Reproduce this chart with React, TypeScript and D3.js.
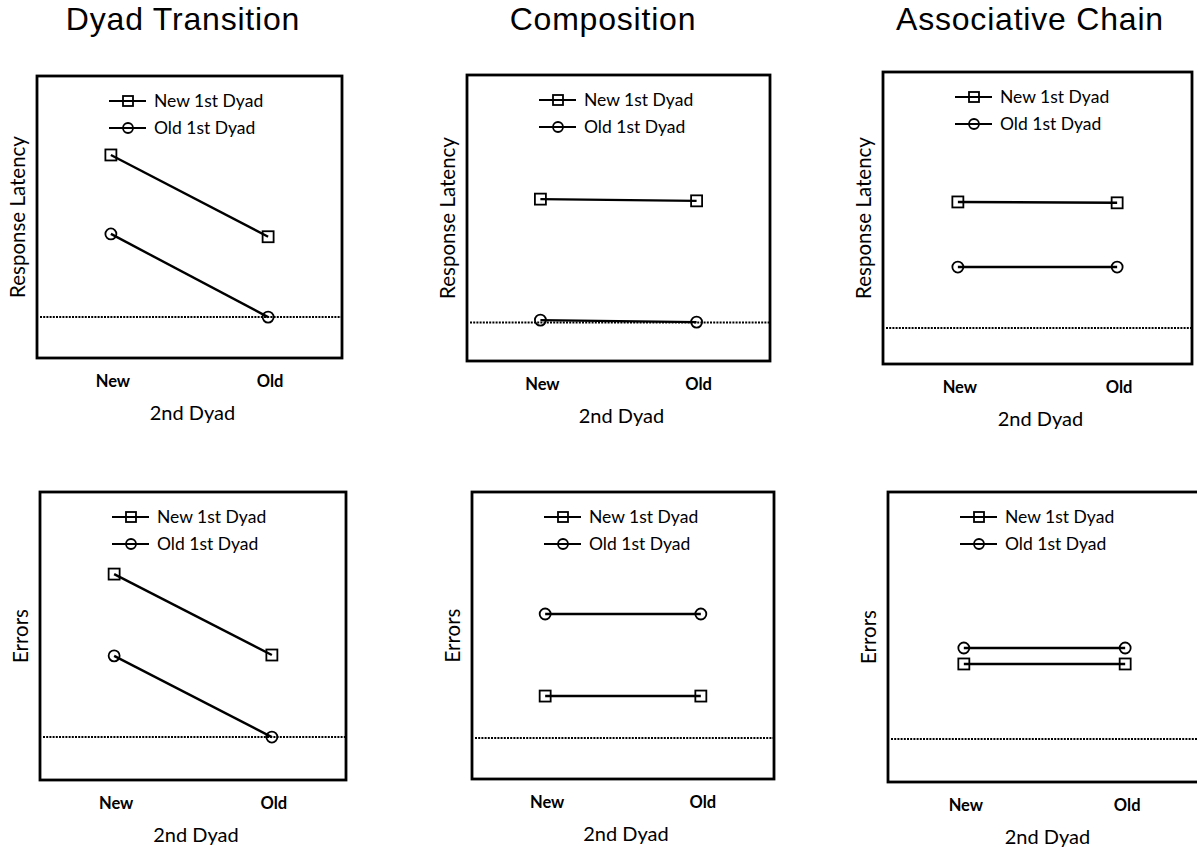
import React from 'react';
import { scalePoint, scaleLinear, line } from 'd3';

// conditions on the x axis and the two series
const conditions = ['New', 'Old'];
const seriesNames = ['New 1st Dyad', 'Old 1st Dyad'];
const titles = ['Dyad Transition', 'Composition', 'Associative Chain'];
const measures = ['Response Latency', 'Errors'];

// values (0 = bottom of frame, 100 = top)
const dyadLatencyNew = [72, 43];
const dyadLatencyOld = [44, 14.5];
const compLatencyNew = [56.6, 56];
const compLatencyOld = [14.3, 13.6];
const chainLatencyNew = [55.5, 55.2];
const chainLatencyOld = [33.2, 33.2];

const dyadErrorsNew = [71.5, 43.4];
const dyadErrorsOld = [43.1, 14.9];
const compErrorsNew = [28.9, 28.9];
const compErrorsOld = [57.5, 57.5];
const chainErrorsNew = [40.7, 40.7];
const chainErrorsOld = [46.2, 46.2];

const latencyBaseline = [14.5, 13.5, 12.3];
const errorsBaseline = [14.9, 14.3, 14.8];

// frame of every panel, row by row
const frames = [
  [
    { x: 37, y: 76, w: 305, h: 282 },
    { x: 467, y: 75, w: 303, h: 286 },
    { x: 883, y: 72, w: 309, h: 292 },
  ],
  [
    { x: 40, y: 492, w: 306, h: 288 },
    { x: 472, y: 492, w: 302, h: 287 },
    { x: 888, y: 492, w: 313, h: 290 },
  ],
];
const titleX = [183, 603, 1030];

const panelData = [
  [
    [dyadLatencyNew, dyadLatencyOld],
    [compLatencyNew, compLatencyOld],
    [chainLatencyNew, chainLatencyOld],
  ],
  [
    [dyadErrorsNew, dyadErrorsOld],
    [compErrorsNew, compErrorsOld],
    [chainErrorsNew, chainErrorsOld],
  ],
];
const baselines = [latencyBaseline, errorsBaseline];

const labelFont = 'Lato, "Open Sans", sans-serif';

function Marker({ kind, x, y, size }) {
  if (kind === 0) {
    return <rect x={x - size / 2} y={y - size / 2} width={size} height={size}
      fill="none" stroke="#000" strokeWidth={1.8} />;
  }
  return <circle cx={x} cy={y} r={size / 2} fill="none" stroke="#000" strokeWidth={1.8} />;
}

function Panel({ frame, series, baseline, measure, title, tx }) {
  const { x, y, w, h } = frame;
  const xs = scalePoint().domain(conditions).range([x, x + w]).padding(0.47);
  const ys = scaleLinear().domain([0, 100]).range([y + h, y]);
  const path = line<number>()
    .x((d, i) => xs(conditions[i]))
    .y(d => ys(d));

  const lgX = x + 72;
  const lgY = y + 25;
  return (
    <g>
      {title && (
        <text x={tx} y={30} textAnchor="middle" fontSize={32} letterSpacing={0.8}
          fontFamily='"Liberation Sans", Arial, sans-serif'>{title}</text>
      )}
      <rect x={x} y={y} width={w} height={h} fill="none" stroke="#000" strokeWidth={2.8} />
      <line x1={x + 3} x2={x + w} y1={ys(baseline)} y2={ys(baseline)}
        stroke="#000" strokeWidth={2} strokeDasharray="2,1.2" />
      {series.map((vals, si) => (
        <g key={si}>
          <path d={path(vals)} fill="none" stroke="#000" strokeWidth={2.4} />
          {vals.map((v, i) => (
            <Marker key={i} kind={si} x={xs(conditions[i])} y={ys(v)} size={11} />
          ))}
        </g>
      ))}
      {seriesNames.map((name, si) => (
        <g key={name}>
          <line x1={lgX} x2={lgX + 37} y1={lgY + si * 27} y2={lgY + si * 27}
            stroke="#000" strokeWidth={2.2} />
          <Marker kind={si} x={lgX + 19} y={lgY + si * 27} size={10} />
          <text x={lgX + 45} y={lgY + si * 27 + 6} fontSize={17.5} fontFamily={labelFont}>{name}</text>
        </g>
      ))}
      {conditions.map(c => (
        <text key={c} x={xs(c) + 2} y={y + h + 29} textAnchor="middle" fontSize={16.5}
          fontWeight="bold" fontFamily={labelFont}>{c}</text>
      ))}
      <text x={x + w / 2 + 3} y={y + h + 62} textAnchor="middle" fontSize={20}
        fontFamily={labelFont}>2nd Dyad</text>
      <text transform={`translate(${x - 12},${y + h / 2}) rotate(-90)`} textAnchor="middle"
        fontSize={20.5} fontFamily={labelFont}>{measure}</text>
    </g>
  );
}

export default function App() {
  return (
    <svg width={1197} height={853} style={{ position: 'absolute', left: 0, top: 0, background: '#fff' }}>
      {frames.map((row, r) =>
        row.map((frame, c) => (
          <Panel key={`${r}-${c}`} frame={frame} series={panelData[r][c]}
            baseline={baselines[r][c]} measure={measures[r]}
            title={r === 0 ? titles[c] : null} tx={titleX[c]} />
        ))
      )}
    </svg>
  );
}
